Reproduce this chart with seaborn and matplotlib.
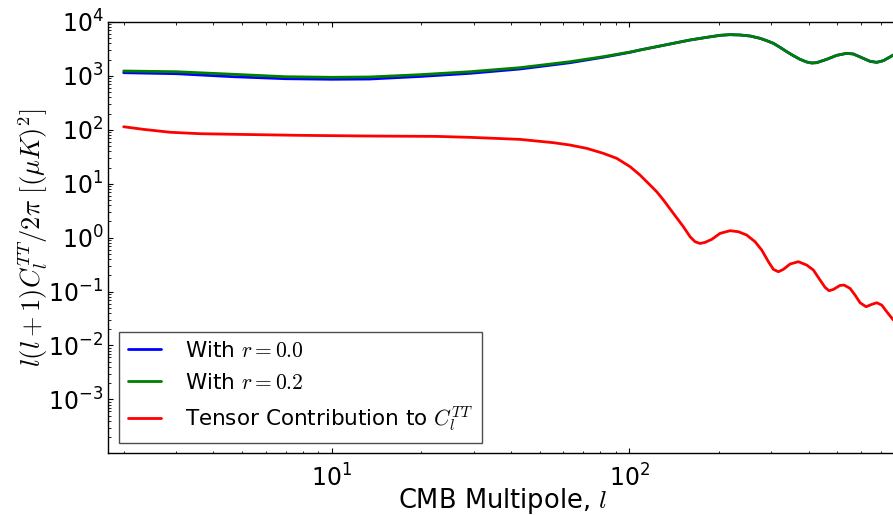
import numpy as np
import pandas as pd
import matplotlib
matplotlib.use("Agg")
import matplotlib.pyplot as plt
import seaborn as sns

# Multipoles and band powers l(l+1)C_l/2pi in (muK)^2 for the total spectra
ell_total = [2, 3, 4.67, 7, 10, 13.4, 19.8, 29.2, 42.9, 63.2,
             81.8, 100.6, 108.6, 123.6, 140.6, 160, 182, 201.8, 218, 235.5,
             254.4, 274.9, 289.4, 304.8, 320.9, 337.9, 355.8, 374.6, 394.5, 410.1,
             426.3, 460.5, 497.6, 537.6, 566, 603.7, 644, 678, 714, 771.4]
cl_r00 = [1146, 1099, 966, 887, 866, 875, 976, 1117, 1343, 1757,
          2220, 2740, 3023, 3486, 4020, 4634, 5193, 5655, 5820, 5740,
          5500, 4978, 4505, 4020, 3388, 2815, 2373, 2030, 1811, 1735,
          1760, 2030, 2407, 2623, 2548, 2179, 1864, 1785, 1917, 2442]
cl_r02 = [1233, 1196, 1072, 966, 942, 955, 1054, 1197, 1421, 1834,
          2274, 2776, 3023, 3486, 4020, 4634, 5193, 5655, 5820, 5740,
          5500, 4978, 4505, 4020, 3388, 2815, 2373, 2030, 1811, 1735,
          1760, 2030, 2407, 2623, 2548, 2179, 1864, 1785, 1917, 2442]

# Tensor-only contribution
ell_tensor = [2, 2.33, 2.87, 3.61, 4.67, 7.82, 13.45, 22.5, 29.2, 42.9,
              55.6, 63.2, 71.9, 81.8, 90.7, 100.6, 108.6, 117.4, 123.6, 130.2,
              140.6, 151.9, 160, 166.3, 172.8, 179.6, 189.2, 201.8, 218, 232.5,
              248, 264.5, 278.5, 293.3, 304.8, 316.8, 329.3, 346.7, 369.8, 394.5,
              415.4, 437.4, 454.7, 468.9, 484.9, 510.5, 526.5, 551.5, 573.3, 596,
              624.3, 652.3, 678, 704.7, 732.5, 771.4]
cl_tensor = [114, 102, 90, 84.7, 82.6, 79, 76.7, 75.5, 72.5, 66.5,
             57.7, 52.2, 45.3, 36.6, 29.6, 20.7, 14.5, 9.46, 7.1, 4.99,
             2.82, 1.595, 1.04, 0.84, 0.78, 0.817, 0.929, 1.20, 1.345, 1.288,
             1.117, 0.84, 0.589, 0.358, 0.258, 0.233, 0.258, 0.324, 0.358, 0.310,
             0.2505, 0.1634, 0.1195, 0.1036, 0.1097, 0.130, 0.132, 0.1145, 0.0861, 0.062,
             0.0523, 0.0578, 0.062, 0.0562, 0.0423, 0.0296]

labels = [r"With $r=0.0$", r"With $r=0.2$", r"Tensor Contribution to $C_l^{TT}$"]
colors = ["#0000ff", "#008000", "#ff0000"]

frames = [
    pd.DataFrame({"ell": ell_total, "cl": cl_r00, "series": labels[0]}),
    pd.DataFrame({"ell": ell_total, "cl": cl_r02, "series": labels[1]}),
    pd.DataFrame({"ell": ell_tensor, "cl": cl_tensor, "series": labels[2]}),
]
df = pd.concat(frames, ignore_index=True)

sns.set_style("white")
plt.rcParams.update({
    "font.family": ["DejaVu Sans"],
    "mathtext.fontset": "cm",
    "axes.unicode_minus": False,
    "axes.edgecolor": "black",
    "axes.linewidth": 1.0,
    "text.color": "black",
    "axes.labelcolor": "black",
    "xtick.color": "black",
    "ytick.color": "black",
})

fig = plt.figure(figsize=(8.93, 5.15), dpi=100)
ax = fig.add_axes([0.1213, 0.1198, 0.8837, 0.8375])

sns.lineplot(data=df, x="ell", y="cl", hue="series", hue_order=labels,
             palette=dict(zip(labels, colors)), estimator=None, sort=True,
             linewidth=2, ax=ax)

ax.set_xscale("log")
ax.set_yscale("log")
ax.set_xlim(1.776, 796)
ax.set_ylim(1e-4, 1e4)
ax.set_yticks([1e-3, 1e-2, 1e-1, 1e0, 1e1, 1e2, 1e3, 1e4])

ax.tick_params(which="both", direction="in", bottom=True, left=True,
               top=True, right=False, color="black", labelsize=17)
ax.tick_params(which="major", length=3.5, width=0.8)
ax.tick_params(which="minor", length=1.8, width=0.6)
ax.tick_params(axis="x", which="major", pad=8)

ax.set_xlabel(r"CMB Multipole, $l$", fontsize=18.5, labelpad=-4)
ax.set_ylabel(r"$l(l+1)C_l^{TT}/2\pi\ [(\mu K)^2]$", fontsize=19, labelpad=-1)

leg = ax.legend(loc="lower left", fontsize=15.5, frameon=True, fancybox=False,
                edgecolor="0.3", framealpha=1, handlelength=1.55,
                handletextpad=1.1, labelspacing=0.55, borderaxespad=0.5,
                borderpad=0.4)
leg.get_frame().set_linewidth(1.0)

for s in ax.spines.values():
    s.set_color("black")

fig.savefig("out.png", dpi=100)
